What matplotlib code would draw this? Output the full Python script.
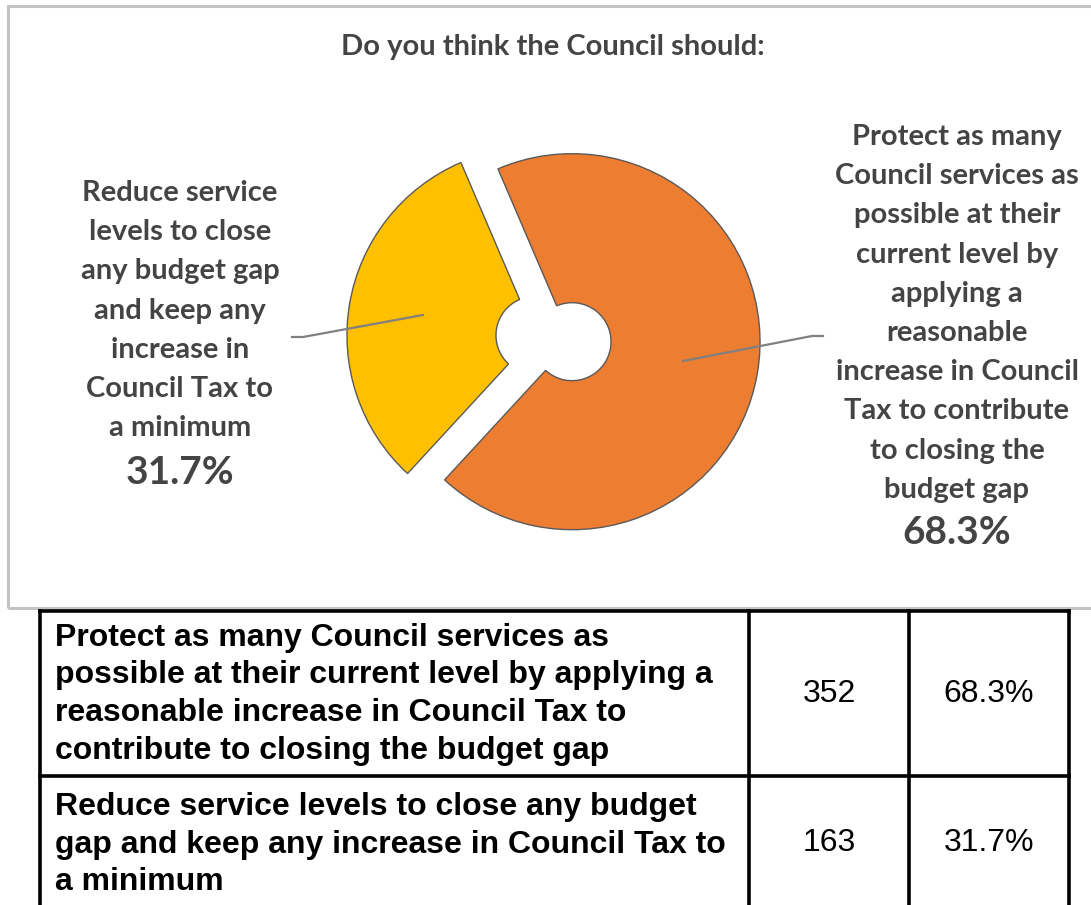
import matplotlib
matplotlib.use("Agg")
import matplotlib.pyplot as plt
from matplotlib.patches import Rectangle

# Survey responses
options = [
    "Protect as many Council services as possible at their current level by applying a reasonable increase in Council Tax to contribute to closing the budget gap",
    "Reduce service levels to close any budget gap and keep any increase in Council Tax to a minimum",
]
counts = [352, 163]
percents = [68.3, 31.7]
colors = ["#ED7D31", "#FFC000"]

title = "Do you think the Council should:"
label_lines = [
    ["Protect as many", "Council services as", "possible at their", "current level by",
     "applying a", "reasonable", "increase in Council", "Tax to contribute",
     "to closing the", "budget gap"],
    ["Reduce service", "levels to close", "any budget gap", "and keep any",
     "increase in", "Council Tax to", "a minimum"],
]
table_lines = [
    ["Protect as many Council services as",
     "possible at their current level by applying a",
     "reasonable increase in Council Tax to",
     "contribute to closing the budget gap"],
    ["Reduce service levels to close any budget",
     "gap and keep any increase in Council Tax to",
     "a minimum"],
]

W, H = 1091, 905
fig = plt.figure(figsize=(W / 100, H / 100), dpi=100)
ax = fig.add_axes([0, 0, 1, 1])


def Y(y):
    """Convert a top-down pixel row to the axes' upward coordinate."""
    return H - y


TXT = "#444444"
FONT = "Lato"

# Exploded doughnut
radius = 188
wedges, _ = ax.pie(
    percents, colors=colors, startangle=113.2, counterclock=False,
    radius=radius, center=(553.5, Y(338.5)), explode=[18.8, 18.8],
    wedgeprops=dict(width=radius - 39, edgecolor="#5a5a5a", linewidth=1.0),
)

ax.set_xlim(0, W)
ax.set_ylim(0, H)
ax.set_aspect("equal")
ax.axis("off")

# Chart frame
ax.add_patch(Rectangle((8, Y(608)), W + 10, 602, fill=False,
                       edgecolor="#c3c3c3", linewidth=2.2, zorder=0))

ax.text(553, Y(47), title, ha="center", va="center", fontsize=21,
        fontweight="bold", color=TXT, family=FONT)

# Leader lines
ax.plot([683, 812, 823], [Y(361), Y(336), Y(336)], color="#808080", lw=1.6)
ax.plot([423, 303, 292], [Y(315), Y(337), Y(337)], color="#808080", lw=1.6)

# Data labels
pitch = 39.2
for lines, pct, cx, y0, py in [
    (label_lines[0], percents[0], 957, 137, 533),
    (label_lines[1], percents[1], 180, 193, 473),
]:
    for i, ln in enumerate(lines):
        ax.text(cx, Y(y0 + i * pitch), ln, ha="center", va="center",
                fontsize=21, fontweight="bold", color=TXT, family=FONT)
    ax.text(cx, Y(py), f"{pct:.1f}%", ha="center", va="center",
            fontsize=28, fontweight="bold", color=TXT, family=FONT)

# Table
xs = [40, 749, 909, 1069]
ys = [611, 776, 910]
lw = 2.6
for x in xs:
    ax.plot([x, x], [Y(ys[0]), Y(ys[-1])], color="black", lw=lw,
            solid_capstyle="projecting")
for y in ys:
    ax.plot([xs[0], xs[-1]], [Y(y), Y(y)], color="black", lw=lw,
            solid_capstyle="projecting")

row_first = [638, 807]
row_pitch = 37.5
for r in range(2):
    for i, ln in enumerate(table_lines[r]):
        ax.text(55, Y(row_first[r] + i * row_pitch), ln, ha="left",
                va="center", fontsize=23, fontweight="bold", color="black",
                family="Liberation Sans")
    cy = (ys[r] + ys[r + 1]) / 2
    ax.text((xs[1] + xs[2]) / 2, Y(cy), f"{counts[r]}", ha="center",
            va="center", fontsize=23, color="black", family="Liberation Sans")
    ax.text((xs[2] + xs[3]) / 2, Y(cy), f"{percents[r]:.1f}%", ha="center",
            va="center", fontsize=23, color="black", family="Liberation Sans")

fig.savefig("out.png", dpi=100)
